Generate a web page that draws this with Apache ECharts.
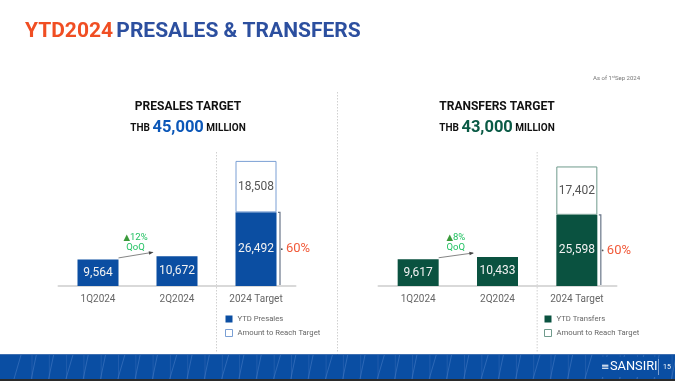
<!DOCTYPE html>
<html><head><meta charset="utf-8">
<script src="https://cdn.jsdelivr.net/npm/echarts@6/dist/echarts.min.js"></script>
<style>html,body{margin:0;padding:0;background:#fff}#c{width:675px;height:381px}</style>
</head><body><div id="c"></div>
<script>
const categories = ['1Q2024', '2Q2024', '2024 Target'];
const presalesYTD = [9564, 10672, 26492];
const presalesRemain = [null, null, 18508];
const transfersYTD = [9617, 10433, 25598];
const transfersRemain = [null, null, 17402];
const presalesTarget = '45,000';
const transfersTarget = '43,000';
const presalesQoQ = '12%';
const transfersQoQ = '8%';
const presalesPct = '60%';
const transfersPct = '60%';

const BLUE = '#0b4ea2', GREEN = '#0a5240';
const FONT = 'Roboto';
const chart = echarts.init(document.getElementById('c'), null, {renderer: 'canvas'});

function xAx(gi) {
  return {type: 'category', gridIndex: gi, data: categories,
    axisLine: {lineStyle: {color: '#d9d9d9', width: 2}}, axisTick: {show: false},
    axisLabel: {color: '#666', fontSize: 10, fontFamily: FONT, margin: 8}};
}
function yAx(gi) {
  return {type: 'value', gridIndex: gi, min: 0, max: 50000, show: false, splitLine: {show: false}};
}
function barLabel(color) {
  return {show: true, position: 'inside', color: color, fontSize: 12, fontFamily: FONT,
    formatter: p => p.value == null ? '' : Number(p.value).toLocaleString('en-US')};
}
const legendText = {fontSize: 7.7, color: '#666', fontFamily: FONT};
const option = {
  animation: false,
  textStyle: {fontFamily: FONT},
  grid: [
    {left: 58.5, width: 237, top: 147, height: 139},
    {left: 378.5, width: 238, top: 147, height: 139}
  ],
  xAxis: [xAx(0), xAx(1)],
  yAxis: [yAx(0), yAx(1)],
  legend: [
    {left: 225, top: 315, padding: 0, orient: 'vertical', itemWidth: 7, itemHeight: 7, itemGap: 6,
     textStyle: legendText,
     data: [{name: 'YTD Presales', icon: 'rect'},
            {name: 'Amount to Reach Target', icon: 'rect', itemStyle: {color: '#fff', borderColor: '#7a9fd4', borderWidth: 1}}]},
    {left: 544, top: 315, padding: 0, orient: 'vertical', itemWidth: 7, itemHeight: 7, itemGap: 6,
     textStyle: legendText,
     data: [{name: 'YTD Transfers', icon: 'rect'},
            {name: 'Amount to Reach Target ', icon: 'rect', itemStyle: {color: '#fff', borderColor: '#6f9a8c', borderWidth: 1}}]}
  ],
  series: [
    {name: 'YTD Presales', type: 'bar', xAxisIndex: 0, yAxisIndex: 0, stack: 'p', barWidth: 41,
     data: presalesYTD, itemStyle: {color: BLUE}, label: barLabel('#f2f2f2')},
    {name: 'Amount to Reach Target', type: 'bar', xAxisIndex: 0, yAxisIndex: 0, stack: 'p', barWidth: 41,
     data: presalesRemain, itemStyle: {color: '#fff', borderColor: '#7a9fd4', borderWidth: 1}, label: barLabel('#555')},
    {name: 'YTD Transfers', type: 'bar', xAxisIndex: 1, yAxisIndex: 1, stack: 't', barWidth: 41,
     data: transfersYTD, itemStyle: {color: GREEN}, label: barLabel('#f2f2f2')},
    {name: 'Amount to Reach Target ', type: 'bar', xAxisIndex: 1, yAxisIndex: 1, stack: 't', barWidth: 41,
     data: transfersRemain, itemStyle: {color: '#fff', borderColor: '#6f9a8c', borderWidth: 1}, label: barLabel('#555')}
  ]
};
chart.setOption(option);

const g = [];
function px(gi, cat, val) { return chart.convertToPixel({gridIndex: gi}, [cat, val]); }
const half = 20.5;

// header
g.push({type: 'text', left: 25, top: 21, style: {text: '{o|YTD2024} {b|PRESALES & TRANSFERS}', rich: {
  o: {fill: '#f04e23', fontSize: 21, fontWeight: 'bold', fontFamily: FONT},
  b: {fill: '#2c4f9f', fontSize: 21, fontWeight: 'bold', fontFamily: FONT}}}});
g.push({type: 'text', left: 593, top: 75, style: {text: 'As of 1{s|st}Sep 2024', fill: '#777', fontSize: 6, fontFamily: FONT,
  rich: {s: {fontSize: 4, fill: '#777', verticalAlign: 'top', padding: [0, 0, 3, 0]}}}});

function dotted(x, y1, y2) {
  g.push({type: 'line', shape: {x1: x, y1: y1, x2: x, y2: y2}, style: {stroke: '#d0d0d0', lineWidth: 1, lineDash: [1.5, 1.5]}});
}
dotted(337.5, 92, 352);

function panel(gi, cx, title, target, color, ytd, qoq, pct, bracketColor) {
  g.push({type: 'text', x: cx, y: 107, style: {text: title, fill: '#111', fontSize: 12, fontWeight: 'bold', fontFamily: FONT, align: 'center', verticalAlign: 'middle'}});
  g.push({type: 'text', x: cx, y: 128, style: {text: '{a|THB }{v|' + target + '}{a| MILLION}', align: 'center', verticalAlign: 'middle', rich: {
    a: {fill: '#111', fontSize: 10, fontWeight: 'bold', fontFamily: FONT},
    v: {fill: color, fontSize: 16.5, fontWeight: 'bold', fontFamily: FONT}}}});
  const p1 = px(gi, 1, 0), p2 = px(gi, 2, 0);
  dotted((p1[0] + p2[0]) / 2, 152, 352);
  // QoQ arrow
  const a = px(gi, 0, ytd[0]), b = px(gi, 1, ytd[1]);
  const x1 = a[0] + half, y1 = a[1] - 1.5, x2 = b[0] - half - 4, y2 = b[1] - 4;
  g.push({type: 'line', shape: {x1: x1, y1: y1, x2: x2, y2: y2}, style: {stroke: '#666', lineWidth: 0.8}});
  const ang = Math.atan2(y2 - y1, x2 - x1);
  g.push({type: 'polygon', shape: {points: [[x2 + 1, y2], [x2 - 4 * Math.cos(ang - 0.45), y2 - 4 * Math.sin(ang - 0.45)], [x2 - 4 * Math.cos(ang + 0.45), y2 - 4 * Math.sin(ang + 0.45)]]}, style: {fill: '#444'}});
  const mx = (x1 + x2) / 2;
  g.push({type: 'text', x: mx, y: 237.5, style: {text: '{t|▲}{g|' + qoq + '}', align: 'center', verticalAlign: 'middle', rich: {
    t: {fill: '#3a9a3a', fontSize: 8.5, fontFamily: 'DejaVu Sans'}, g: {fill: '#1fc060', fontSize: 9.5, fontFamily: FONT}}}});
  g.push({type: 'text', x: mx, y: 247.5, style: {text: 'QoQ', fill: '#1fc060', fontSize: 9.5, fontFamily: FONT, align: 'center', verticalAlign: 'middle'}});
  // bracket
  const t = px(gi, 2, ytd[2]), z = px(gi, 2, 0);
  const bx = t[0] + half + 3.5;
  g.push({type: 'polyline', shape: {points: [[bx - 2, t[1]], [bx, t[1]], [bx, z[1]], [bx - 2, z[1]]]}, style: {stroke: bracketColor, lineWidth: 1.2, fill: null}});
  const my = (t[1] + z[1]) / 2;
  g.push({type: 'circle', shape: {cx: bx + 1.8, cy: my, r: 0.9}, style: {fill: '#555'}});
  g.push({type: 'text', x: bx + 6, y: my, style: {text: pct, fill: '#f15a3a', fontSize: 13, fontFamily: FONT, verticalAlign: 'middle'}});
}
panel(0, 188, 'PRESALES TARGET', presalesTarget, '#0b57b8', presalesYTD, presalesQoQ, presalesPct, '#6a7689');
panel(1, 497, 'TRANSFERS TARGET', transfersTarget, '#0a5a45', transfersYTD, transfersQoQ, transfersPct, '#6a7689');

// footer
g.push({type: 'rect', shape: {x: 0, y: 354, width: 675, height: 25}, style: {fill: '#0a4ea3'}});
g.push({type: 'line', shape: {x1: 0, y1: 354.5, x2: 675, y2: 354.5}, style: {stroke: '#3f6fb0', lineWidth: 1}});
g.push({type: 'rect', shape: {x: 0, y: 379, width: 675, height: 2}, style: {fill: '#2a2a2a'}});
for (let x = 32; x < 675; x += 17.3) {
  g.push({type: 'line', shape: {x1: x, y1: 355, x2: x, y2: 379}, style: {stroke: '#2f66b3', lineWidth: 0.6}});
}
for (let x = 14, k = 0; x < 675; x += 17.3, k++) {
  const dx = (k % 3 === 0) ? 7 : 5;
  g.push({type: 'line', shape: {x1: x + dx, y1: 355, x2: x, y2: 379}, style: {stroke: '#4379c2', lineWidth: 0.6}});
}
g.push({type: 'rect', shape: {x: 598, y: 357, width: 60, height: 20}, style: {fill: '#0a4ea3'}});
g.push({type: 'text', x: 601, y: 367, style: {text: '≡', fill: '#fff', fontSize: 10, fontFamily: 'DejaVu Sans', verticalAlign: 'middle'}});
g.push({type: 'text', x: 610, y: 367, style: {text: 'SANSIRI', fill: '#fff', fontSize: 12.8, fontFamily: FONT, verticalAlign: 'middle'}});
g.push({type: 'line', shape: {x1: 658.5, y1: 359, x2: 658.5, y2: 375}, style: {stroke: '#9ab6de', lineWidth: 0.8}});
g.push({type: 'text', x: 663, y: 367, style: {text: '15', fill: '#fff', fontSize: 7, fontFamily: FONT, verticalAlign: 'middle'}});

chart.setOption({graphic: g});
</script></body></html>
